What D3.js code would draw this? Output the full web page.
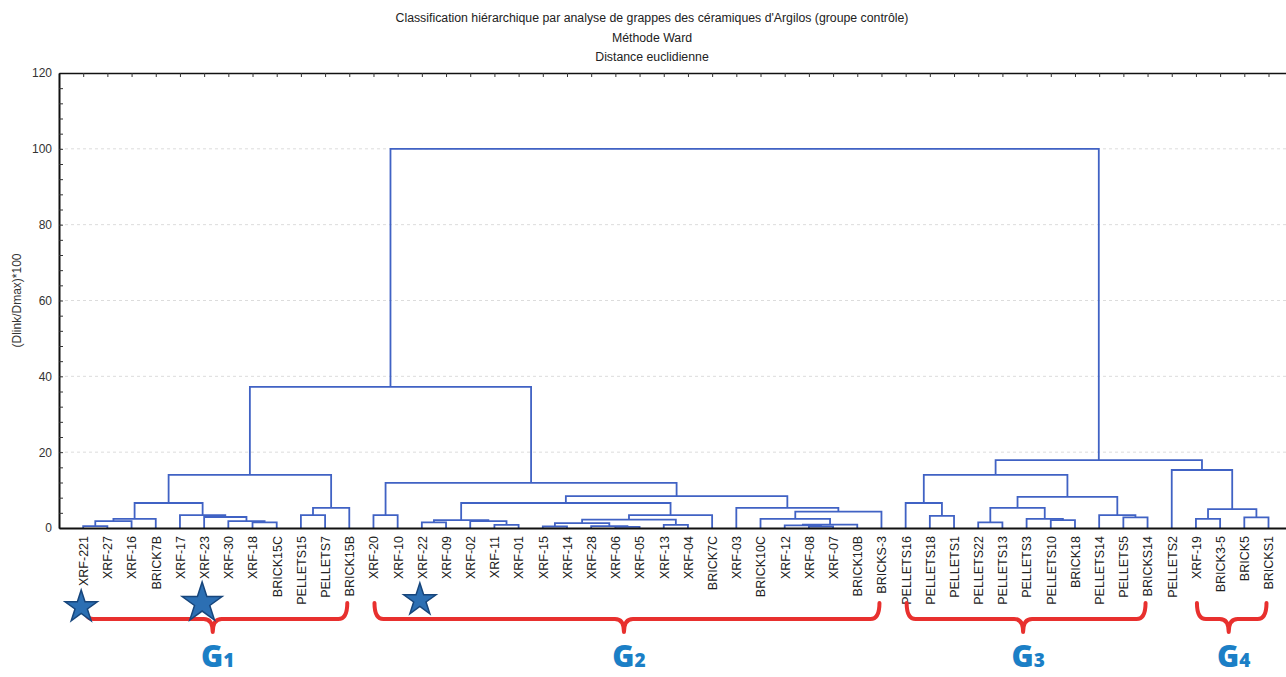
<!DOCTYPE html>
<html lang="fr">
<head>
    <meta charset="UTF-8">
    <title>Classification hiérarchique</title>
    <script src="https://d3js.org/d3.v7.min.js"></script>
    <style>
        body { margin: 0; background: #fff; overflow: hidden; }
        svg { display: block; font-family: "Liberation Sans", Arial, sans-serif; }
    </style>
</head>
<body>
<svg id="chart"></svg>
<script>
    // feuilles, dans l'ordre du dendrogramme
    var leaves = ["XRF-221", "XRF-27", "XRF-16", "BRICK7B", "XRF-17", "XRF-23", "XRF-30", "XRF-18", "BRICK15C",
        "PELLETS15", "PELLETS7", "BRICK15B",
        "XRF-20", "XRF-10", "XRF-22", "XRF-09", "XRF-02", "XRF-11", "XRF-01", "XRF-15", "XRF-14", "XRF-28",
        "XRF-06", "XRF-05", "XRF-13", "XRF-04", "BRICK7C", "XRF-03", "BRICK10C", "XRF-12", "XRF-08", "XRF-07",
        "BRICK10B", "BRICKS-3",
        "PELLETS16", "PELLETS18", "PELLETS1", "PELLETS22", "PELLETS13", "PELLETS3", "PELLETS10", "BRICK18",
        "PELLETS14", "PELLETS5", "BRICKS14",
        "PELLETS2", "XRF-19", "BRICK3-5", "BRICK5", "BRICKS1"];

    // fusions : [gauche, droite, hauteur] ; un nombre = index d'une fusion précédente
    var merges = [
        ["XRF-221", "XRF-27", 0.5], [0, "XRF-16", 1.8], [1, "BRICK7B", 2.4],
        ["XRF-18", "BRICK15C", 1.5], ["XRF-30", 3, 1.8], ["XRF-23", 4, 2.9], ["XRF-17", 5, 3.4],
        [2, 6, 6.6], ["PELLETS15", "PELLETS7", 3.4], [8, "BRICK15B", 5.3], [7, 9, 14.0],
        ["XRF-20", "XRF-10", 3.4], ["XRF-22", "XRF-09", 1.5], ["XRF-11", "XRF-01", 0.8], ["XRF-02", 13, 1.8],
        [12, 14, 2.1], ["XRF-15", "XRF-14", 0.4], ["XRF-06", "XRF-05", 0.3], ["XRF-28", 17, 0.5], [16, 18, 1.3],
        ["XRF-13", "XRF-04", 0.8], [19, 20, 2.2], [21, "BRICK7C", 3.4], [15, 22, 6.6],
        ["XRF-08", "XRF-07", 0.4], ["XRF-12", 24, 0.7], [25, "BRICK10B", 0.9], ["BRICK10C", 26, 2.4],
        [27, "BRICKS-3", 4.3], ["XRF-03", 28, 5.3], [23, 29, 8.4], [11, 30, 11.9], [10, 31, 37.2],
        ["PELLETS18", "PELLETS1", 3.2], ["PELLETS16", 33, 6.6], ["PELLETS22", "PELLETS13", 1.5],
        ["PELLETS10", "BRICK18", 2.1], ["PELLETS3", 36, 2.4], [35, 37, 5.3], ["PELLETS5", "BRICKS14", 2.8],
        ["PELLETS14", 39, 3.4], [38, 40, 8.2], [34, 41, 14.0],
        ["XRF-19", "BRICK3-5", 2.4], ["BRICK5", "BRICKS1", 2.8], [43, 44, 5.0], ["PELLETS2", 45, 15.3],
        [42, 46, 17.9], [32, 47, 100]
    ];

    var yTicks = [0, 20, 40, 60, 80, 100, 120];
    var titleLines = ["Classification hiérarchique par analyse de grappes des céramiques d'Argilos (groupe contrôle)",
        "Méthode Ward", "Distance euclidienne"];
    var yLabel = "(Dlink/Dmax)*100";

    // groupes (accolades rouges)
    var groupNames = ["1", "2", "3", "4"];
    var groupFirst = ["XRF-221", "XRF-20", "PELLETS16", "XRF-19"];
    var groupLast = ["BRICK15B", "BRICKS-3", "BRICKS14", "BRICKS1"];

    // échantillons marqués d'une étoile
    var starLeaves = ["XRF-221", "XRF-23", "XRF-22"];

    (function() {
        var width = 1286;
        var height = 677;
        var left = 59, top = 73, bottom = 528;
        var step = 24.19;
        var starRadius = [17, 21, 17];

        var svg = d3.select("#chart")
            .attr("width", width)
            .attr("height", height);

        var x = d3.scaleLinear()
            .domain([-1, leaves.length])
            .range([left, left + (leaves.length + 1) * step]);

        var y = d3.scaleLinear()
            .domain([0, 120])
            .range([bottom, top]);

        // titre
        svg.append("g")
            .selectAll("text")
            .data(titleLines)
            .enter()
            .append("text")
            .attr("x", 652)
            .attr("y", function(d, i) { return 22 + i * 19.5; })
            .attr("text-anchor", "middle")
            .attr("font-size", 12.3)
            .attr("fill", "#222")
            .text(function(d) { return d; });

        // quadrillage pointillé
        svg.append("g")
            .selectAll("line")
            .data(yTicks.filter(function(d) { return d > 0 && d < 120; }))
            .enter()
            .append("line")
            .attr("x1", left)
            .attr("x2", width)
            .attr("y1", function(d) { return y(d); })
            .attr("y2", function(d) { return y(d); })
            .attr("stroke", "#dcdcdc")
            .attr("stroke-dasharray", "3,3");

        // arbre
        var root = d3.hierarchy(buildNode(merges.length - 1));
        root.eachAfter(function(d) {
            d.px = d.children ? (d.children[0].px + d.children[1].px) / 2 : x(leaves.indexOf(d.data.name));
            d.py = y(d.data.height);
        });

        svg.append("g")
            .selectAll("path")
            .data(root.descendants().filter(function(d) { return d.children; }))
            .enter()
            .append("path")
            .attr("d", function(d) {
                var a = d.children[0], b = d.children[1];
                return "M" + a.px + "," + a.py + "V" + d.py + "H" + b.px + "V" + b.py;
            })
            .attr("fill", "none")
            .attr("stroke", "#4062c4")
            .attr("stroke-width", 1.8);

        // axes
        var yAxis = svg.append("g")
            .attr("transform", "translate(" + left + ",0)")
            .call(d3.axisLeft(y).tickValues(yTicks).tickSize(0).tickPadding(7));
        yAxis.select(".domain").attr("stroke", "#111").attr("stroke-width", 2);
        yAxis.selectAll("text")
            .attr("font-family", "Liberation Sans, Arial, sans-serif")
            .attr("font-size", 12)
            .attr("fill", "#333");

        svg.append("g")
            .attr("transform", "translate(" + left + ",0)")
            .call(d3.axisLeft(y).tickValues(d3.range(0, 121, 4)).tickSize(-4).tickFormat(""))
            .call(function(g) { g.select(".domain").remove(); })
            .selectAll("line").attr("stroke", "#333");

        var topAxis = svg.append("g")
            .attr("transform", "translate(0," + top + ")")
            .call(d3.axisTop(x).tickValues(d3.range(leaves.length)).tickSize(-4).tickFormat("").tickSizeOuter(0));
        topAxis.select(".domain").attr("stroke", "#111").attr("stroke-width", 1.6);
        topAxis.selectAll("line").attr("stroke", "#333");

        var xAxis = svg.append("g")
            .attr("transform", "translate(0," + bottom + ")")
            .call(d3.axisBottom(x)
                .tickValues(d3.range(leaves.length))
                .tickSize(0)
                .tickSizeOuter(0)
                .tickFormat(function(i) { return leaves[i]; }));
        xAxis.select(".domain").attr("stroke", "#111").attr("stroke-width", 2);
        xAxis.selectAll("text")
            .attr("font-family", "Liberation Sans, Arial, sans-serif")
            .attr("font-size", 12.5)
            .attr("fill", "#222")
            .attr("text-anchor", "end")
            .attr("transform", "rotate(-90)")
            .attr("x", -8)
            .attr("y", 0)
            .attr("dy", "0.35em");

        svg.append("text")
            .attr("transform", "translate(21," + ((top + bottom) / 2) + ") rotate(-90)")
            .attr("text-anchor", "middle")
            .attr("font-size", 12)
            .attr("fill", "#333")
            .text(yLabel);

        // accolades
        var braces = svg.append("g");
        groupNames.forEach(function(name, i) {
            var x0 = x(leaves.indexOf(groupFirst[i])) + 1;
            var x1 = x(leaves.indexOf(groupLast[i])) - 2;
            var xc = (x0 + x1) / 2 - 3;
            var y0 = 603, y1 = 619, y2 = 632, r = 9;
            var p = "M" + x0 + "," + y0 + " Q" + x0 + "," + y1 + " " + (x0 + r) + "," + y1 +
                " H" + (xc - r) + " Q" + xc + "," + y1 + " " + xc + "," + y2 +
                " Q" + xc + "," + y1 + " " + (xc + r) + "," + y1 +
                " H" + (x1 - r) + " Q" + x1 + "," + y1 + " " + x1 + "," + y0;
            braces.append("path")
                .attr("d", p)
                .attr("fill", "none")
                .attr("stroke", "#e8302e")
                .attr("stroke-width", 4)
                .attr("stroke-linecap", "round")
                .attr("stroke-linejoin", "round");

            var t = braces.append("text")
                .attr("x", xc + 5)
                .attr("y", 667)
                .attr("text-anchor", "middle")
                .attr("font-family", "Open Sans, sans-serif")
                .attr("font-weight", 800)
                .attr("fill", "#1b7fc6");
            t.append("tspan").attr("font-size", 30).text("G");
            t.append("tspan").attr("font-size", 19).text(name);
        });

        // étoiles
        svg.append("g")
            .selectAll("path")
            .data(starLeaves)
            .enter()
            .append("path")
            .attr("transform", function(d, i) {
                return "translate(" + (x(leaves.indexOf(d)) - 2) + "," + [607, 603, 600][i] + ")";
            })
            .attr("d", function(d, i) {
                return d3.symbol().type(d3.symbolStar).size(starRadius[i] * starRadius[i] / 0.8908130915292852)();
            })
            .attr("fill", "#2c6fb3")
            .attr("stroke", "#17467c")
            .attr("stroke-width", 1.5);

        /**
         * construit le noeud (feuille ou fusion) pour d3.hierarchy
         * @param ref nom de feuille ou index de fusion
         */
        function buildNode(ref) {
            if (typeof ref === "number") {
                var m = merges[ref];
                return { height: m[2], children: [buildNode(m[0]), buildNode(m[1])] };
            }
            return { name: ref, height: 0 };
        }
    })();
</script>
</body>
</html>
